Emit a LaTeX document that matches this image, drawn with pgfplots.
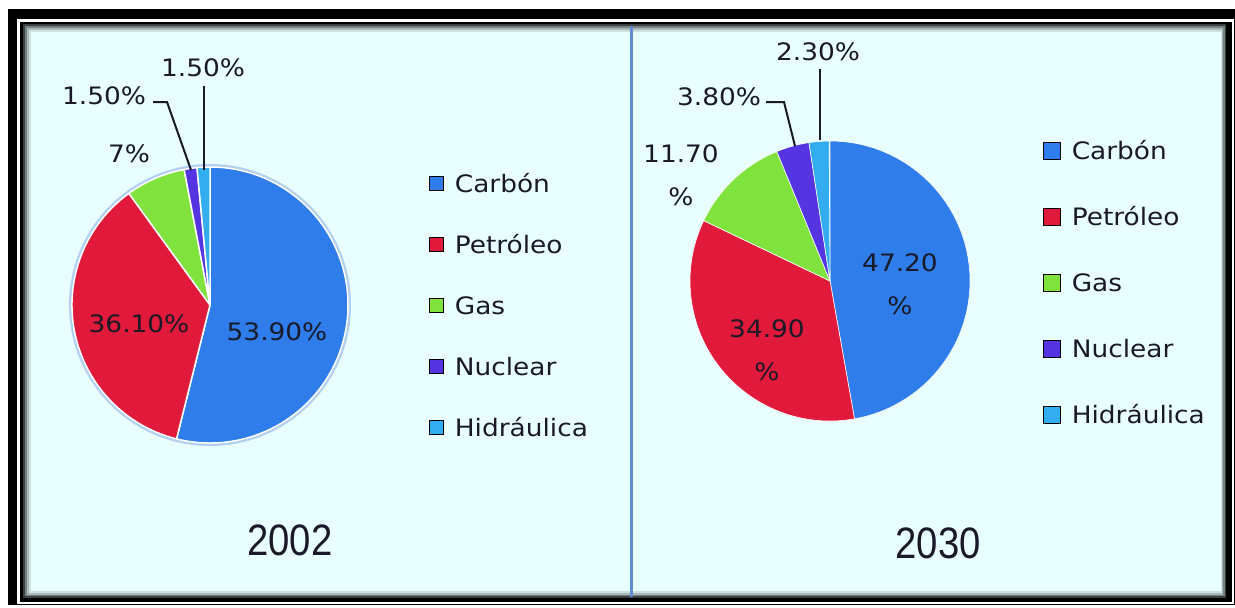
\documentclass[border=0pt]{standalone}
\usepackage{pgfplots}
\pgfplotsset{compat=1.18}
\usepackage{pgfplotstable}
\usepackage{fontspec}
\setmainfont{DejaVu Sans}[FakeStretch=1.1]
\newfontfamily\yearfont{Liberation Sans}[FakeStretch=0.87]

\definecolor{cCarbon}{RGB}{46,125,235}
\definecolor{cPetroleo}{RGB}{225,25,58}
\definecolor{cGas}{RGB}{128,226,60}
\definecolor{cNuclear}{RGB}{85,52,225}
\definecolor{cHidraulica}{RGB}{52,172,240}
\definecolor{panel}{RGB}{233,255,255}
\definecolor{divider}{RGB}{95,140,210}
\definecolor{txt}{RGB}{25,25,40}
\definecolor{halo}{RGB}{178,208,242}

% 2002
\pgfplotstableread{
fuente pct color
Carbon 53.9 cCarbon
Petroleo 36.1 cPetroleo
Gas 7.0 cGas
Nuclear 1.5 cNuclear
Hidraulica 1.5 cHidraulica
}\dataA
% 2030
\pgfplotstableread{
fuente pct color
Carbon 47.2 cCarbon
Petroleo 34.9 cPetroleo
Gas 11.7 cGas
Nuclear 3.8 cNuclear
Hidraulica 2.3 cHidraulica
}\dataB

% #1 table, #2 cx, #3 cy, #4 radius (axis units), #5 separator width
\newcommand\drawpie[5]{%
  \def\pieA{90}%
  \pgfplotstablegetrowsof{#1}\pgfmathtruncatemacro\pieN{\pgfplotsretval-1}%
  \pgfmathsetmacro\pieR{#4*0.5}%
  \pgfplotsforeachungrouped \pieI in {0,...,\pieN}{%
    \pgfplotstablegetelem{\pieI}{pct}\of#1\let\pieV\pgfplotsretval
    \pgfplotstablegetelem{\pieI}{color}\of#1\let\pieC\pgfplotsretval
    \pgfmathsetmacro\pieB{\pieA-3.6*\pieV}%
    \pgfmathsetmacro\pieX{#2+#4*cos(\pieA)}%
    \pgfmathsetmacro\pieY{#3-#4*sin(\pieA)}%
    \edef\piecmd{\noexpand\filldraw[fill=\pieC, draw=white, line width=#5, line join=round]
      (axis cs:#2,#3) -- (axis cs:\pieX,\pieY)
      arc[start angle=\pieA, end angle=\pieB, radius=\pieR pt] -- cycle;}%
    \piecmd
    \let\pieA\pieB
  }%
}
\tikzset{lbl/.style={text=txt, font=\fontsize{12}{21.5}\selectfont, align=center}}

\begin{document}
\begin{tikzpicture}
% ---------------- 2002 ----------------
\begin{axis}[
  at={(0pt,0pt)}, anchor=south west,
  x=0.5pt, y=0.5pt, xmin=0, xmax=1235, ymin=0, ymax=607, y dir=reverse,
  hide axis, clip=false,
  legend cell align=left,
  legend image code/.code={\fill[#1] (0pt,-2.5pt) rectangle (7pt,4.5pt);},
  legend style={at={(0.3474,0.7166)}, anchor=north west, draw=none, fill=none,
    inner sep=0pt, outer sep=0pt, row sep=17pt, column sep=5.5pt,
    font=\fontsize{12}{14}\selectfont, text=txt,
    nodes={inner sep=0pt, text height=10pt, text depth=3.5pt}},
]
% page background (fixes the bounding box to the full picture)
\fill[white] (axis cs:0,0) rectangle (axis cs:1235,607);
% frame
\fill[black] (axis cs:8,9) rectangle (axis cs:1235,605);
\fill[white] (axis cs:17,19) rectangle (axis cs:1233.5,603.5);
\fill[black] (axis cs:20,22) rectangle (axis cs:1231.5,602);
\fill[black!75!panel] (axis cs:23,24) rectangle (axis cs:1226,598);
\fill[black!50!panel] (axis cs:25,26) rectangle (axis cs:1224.5,596);
\fill[black!28!panel] (axis cs:27,28) rectangle (axis cs:1223,594.5);
\fill[black!12!panel] (axis cs:29,30) rectangle (axis cs:1222,593);
\fill[panel] (axis cs:31,32) rectangle (axis cs:1221,591);
\draw[divider, line width=1.5pt] (axis cs:631,26) -- (axis cs:631,597);
% pie
\fill[halo] (axis cs:210,305) circle[radius=70.5pt];
\drawpie{\dataA}{210}{305}{138}{0.75pt}
% labels
\node[lbl] at (axis cs:277,332) {53.90\%};
\node[lbl] at (axis cs:139,324) {36.10\%};
\node[lbl] at (axis cs:129,154) {7\%};
\node[lbl] at (axis cs:104,96) {1.50\%};
\node[lbl] at (axis cs:203,68) {1.50\%};
\draw[txt, line width=1pt] (axis cs:153,102) -- (axis cs:167,102) -- (axis cs:191,170);
\draw[txt, line width=1pt] (axis cs:204,86) -- (axis cs:204,170);
\node[text=txt, font=\yearfont\fontsize{22}{26}\selectfont] at (axis cs:290,540) {2002};
\addlegendimage{fill=cCarbon}\addlegendentry{Carbón}
\addlegendimage{fill=cPetroleo}\addlegendentry{Petróleo}
\addlegendimage{fill=cGas}\addlegendentry{Gas}
\addlegendimage{fill=cNuclear}\addlegendentry{Nuclear}
\addlegendimage{fill=cHidraulica}\addlegendentry{Hidráulica}
\end{axis}
% ---------------- 2030 ----------------
\begin{axis}[
  at={(0pt,0pt)}, anchor=south west,
  x=0.5pt, y=0.5pt, xmin=0, xmax=1235, ymin=0, ymax=607, y dir=reverse,
  hide axis, clip=false,
  legend cell align=left,
  legend image code/.code={\fill[#1] (0pt,-3.25pt) rectangle (8.5pt,5.25pt);},
  legend style={at={(0.8445,0.771)}, anchor=north west, draw=none, fill=none,
    inner sep=0pt, outer sep=0pt, row sep=19.6pt, column sep=5.5pt,
    font=\fontsize{12}{14}\selectfont, text=txt,
    nodes={inner sep=0pt, text height=10pt, text depth=3.5pt}},
]
\path (axis cs:0,0) rectangle (axis cs:1235,607);
\drawpie{\dataB}{830}{281}{140}{0.3pt}
\node[lbl] at (axis cs:900,284) {47.20\\\%};
\node[lbl] at (axis cs:767,350) {34.90\\\%};
\node[lbl] at (axis cs:681,175) {11.70\\\%};
\node[lbl] at (axis cs:719,97) {3.80\%};
\node[lbl] at (axis cs:818,52) {2.30\%};
\draw[txt, line width=1pt] (axis cs:766,102) -- (axis cs:784,102) -- (axis cs:795,146);
\draw[txt, line width=1pt] (axis cs:820,69) -- (axis cs:820,140);
\node[text=txt, font=\yearfont\fontsize{22}{26}\selectfont] at (axis cs:938,543) {2030};
\addlegendimage{fill=cCarbon}\addlegendentry{Carbón}
\addlegendimage{fill=cPetroleo}\addlegendentry{Petróleo}
\addlegendimage{fill=cGas}\addlegendentry{Gas}
\addlegendimage{fill=cNuclear}\addlegendentry{Nuclear}
\addlegendimage{fill=cHidraulica}\addlegendentry{Hidráulica}
\end{axis}
\end{tikzpicture}
\end{document}
